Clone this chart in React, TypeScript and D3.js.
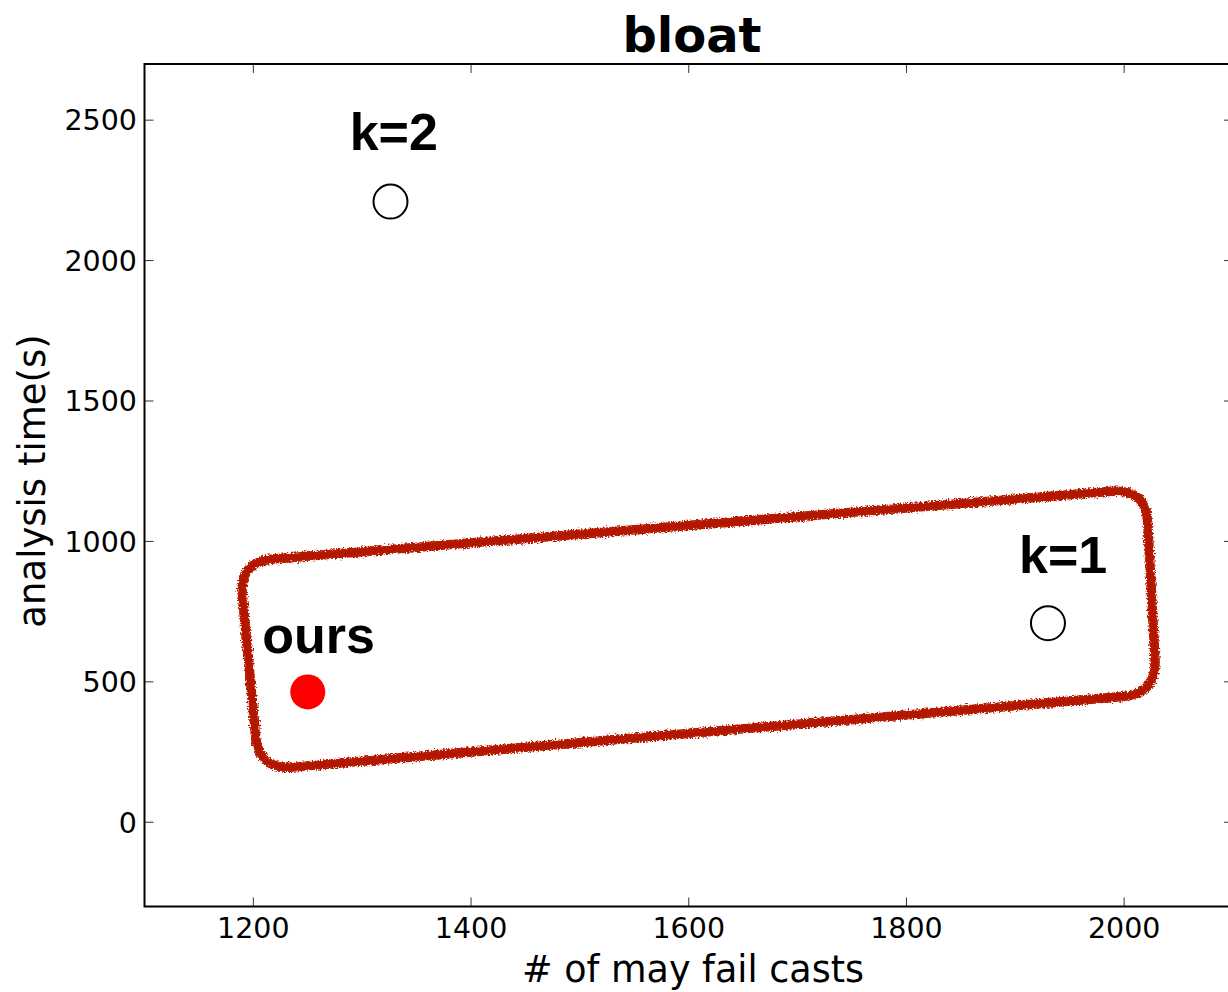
import React from 'react';
import * as d3 from 'd3';

// points: one per method
const methods = ['ours', 'k=1', 'k=2'];
const mayFailCasts = [1250, 1930, 1326];
const analysisTime = [464, 709, 2210];
const filled = [true, false, false];

// where each annotation sits (data units)
const labelX = [1260, 1944, 1329];
const labelY = [603, 887, 2392];

// hand drawn loop around the cheap configurations (corner points, data units)
const loopX = [1187, 2020, 2030, 1205];
const loopY = [928, 1188, 458, 186];

const xTicks = [1200, 1400, 1600, 1800, 2000];
const yTicks = [0, 500, 1000, 1500, 2000, 2500];

const W = 1228;
const H = 992;
const margin = { left: 144.5, right: 1233, top: 64, bottom: 906.5 };

function roundedPath(pts: [number, number][], r: number) {
    let path = d3.path();
    const n = pts.length;
    for (let i = 0; i < n; i++) {
        const p = pts[i];
        const prev = pts[(i + n - 1) % n];
        const next = pts[(i + 1) % n];
        const d1 = Math.hypot(prev[0] - p[0], prev[1] - p[1]);
        const d2 = Math.hypot(next[0] - p[0], next[1] - p[1]);
        const a = [p[0] + (prev[0] - p[0]) * r / d1, p[1] + (prev[1] - p[1]) * r / d1];
        const b = [p[0] + (next[0] - p[0]) * r / d2, p[1] + (next[1] - p[1]) * r / d2];
        if (i === 0) path.moveTo(a[0], a[1]);
        else path.lineTo(a[0], a[1]);
        path.quadraticCurveTo(p[0], p[1], b[0], b[1]);
    }
    path.closePath();
    return path.toString();
}

export default function App() {
    const x = d3.scaleLinear().domain([1100, 2100]).range([margin.left, margin.right]);
    const y = d3.scaleLinear().domain([-300, 2700]).range([margin.bottom, margin.top]);

    const loopPts: [number, number][] = loopX.map((v, i) => [x(v), y(loopY[i])]);
    const loop = roundedPath(loopPts, 34);

    const tickFont = { fontFamily: 'DejaVu Sans', fontSize: 28.5 };
    const annFont = { fontFamily: 'Liberation Sans, Arial', fontWeight: 'bold' as const, fontSize: 52 };

    return (
        <svg width={W} height={H} style={{ position: 'absolute', left: 0, top: 0, background: '#fff' }}>
            <defs>
                <filter id="rough" x="-5%" y="-10%" width="110%" height="120%">
                    <feTurbulence type="fractalNoise" baseFrequency="0.6" numOctaves="2" seed="3" result="noise" />
                    <feDisplacementMap in="SourceGraphic" in2="noise" scale="6" xChannelSelector="R" yChannelSelector="G" />
                </filter>
                <filter id="rough2" x="-5%" y="-10%" width="110%" height="120%">
                    <feTurbulence type="fractalNoise" baseFrequency="1.1" numOctaves="1" seed="8" result="noise" />
                    <feDisplacementMap in="SourceGraphic" in2="noise" scale="5" xChannelSelector="G" yChannelSelector="R" />
                </filter>
            </defs>

            {/* title */}
            <text x={692} y={52} textAnchor="middle" fontFamily="DejaVu Sans" fontWeight="bold" fontSize={48}>bloat</text>

            {/* highlight loop */}
            <path d={loop} fill="none" stroke="#b81a00" strokeWidth={9.5} strokeLinejoin="round" filter="url(#rough)" />
            <path d={loop} fill="none" stroke="#b01800" strokeWidth={5} opacity={0.85} filter="url(#rough2)" />

            {/* points */}
            {methods.map((m, i) => (
                <circle key={m} cx={x(mayFailCasts[i])} cy={y(analysisTime[i])} r={filled[i] ? 17.5 : 17}
                    fill={filled[i] ? '#ff0000' : 'none'}
                    stroke={filled[i] ? 'none' : '#000'} strokeWidth={2} />
            ))}
            {methods.map((m, i) => (
                <text key={'l' + m} x={x(labelX[i])} y={y(labelY[i])} textAnchor="middle" {...annFont}>{m}</text>
            ))}

            {/* ticks */}
            {xTicks.map((t) => (
                <g key={'x' + t}>
                    <line x1={x(t)} x2={x(t)} y1={margin.bottom} y2={margin.bottom - 9} stroke="#333" strokeWidth={1} />
                    <line x1={x(t)} x2={x(t)} y1={margin.top} y2={margin.top + 9} stroke="#333" strokeWidth={1} />
                    <text x={x(t)} y={938} textAnchor="middle" {...tickFont}>{t}</text>
                </g>
            ))}
            {yTicks.map((t) => (
                <g key={'y' + t}>
                    <line x1={margin.left} x2={margin.left + 9} y1={y(t)} y2={y(t)} stroke="#333" strokeWidth={1} />
                    <line x1={margin.right} x2={margin.right - 9} y1={y(t)} y2={y(t)} stroke="#333" strokeWidth={1} />
                    <text x={137} y={y(t)} dy="0.36em" textAnchor="end" {...tickFont}>{t}</text>
                </g>
            ))}

            {/* frame */}
            <rect x={margin.left} y={margin.top} width={margin.right - margin.left} height={margin.bottom - margin.top}
                fill="none" stroke="#000" strokeWidth={2} />

            {/* axis labels */}
            <text x={693} y={982} textAnchor="middle" fontFamily="DejaVu Sans" fontSize={36.5}># of may fail casts</text>
            <text transform="translate(45,481) rotate(-90)" textAnchor="middle" fontFamily="DejaVu Sans" fontSize={37}>analysis time(s)</text>
        </svg>
    );
}
